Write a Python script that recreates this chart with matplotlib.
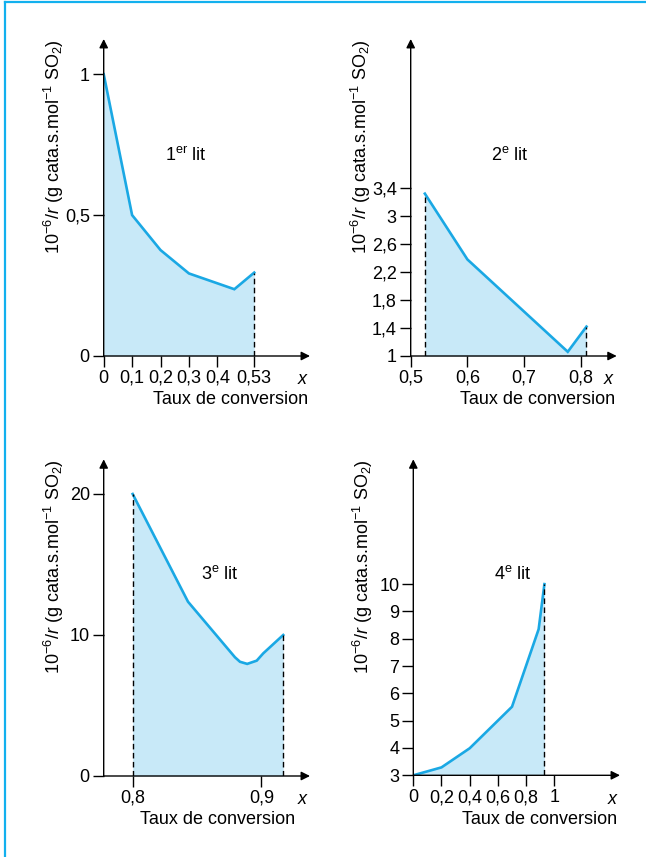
import matplotlib
matplotlib.use("Agg")
import matplotlib.pyplot as plt

plt.rcParams['font.family'] = ['Liberation Sans', 'DejaVu Sans']
plt.rcParams['mathtext.fontset'] = 'custom'
plt.rcParams['mathtext.rm'] = 'Liberation Sans'
plt.rcParams['mathtext.it'] = 'Liberation Sans:italic'
plt.rcParams['mathtext.bf'] = 'Liberation Sans:bold'

# 1er lit
x1 = [0, 0.1, 0.2, 0.3, 0.46, 0.53]
y1 = [1.0, 0.5, 0.376, 0.293, 0.237, 0.296]
xt1 = [0, 0.1, 0.2, 0.3, 0.4, 0.53]
xl1 = ['0', '0,1', '0,2', '0,3', '0,4', '0,53']
yt1 = [0, 0.5, 1]
yl1 = ['0', '0,5', '1']

# 2e lit
x2 = [0.525, 0.6, 0.777, 0.81]
y2 = [3.32, 2.38, 1.06, 1.42]
xt2 = [0.5, 0.6, 0.7, 0.8]
xl2 = ['0,5', '0,6', '0,7', '0,8']
yt2 = [1, 1.4, 1.8, 2.2, 2.6, 3, 3.4]
yl2 = ['1', '1,4', '1,8', '2,2', '2,6', '3', '3,4']

# 3e lit
x3 = [0.8, 0.843, 0.8795, 0.8834, 0.889, 0.8964, 0.9015, 0.917]
y3 = [20.0, 12.36, 8.42, 8.1, 7.95, 8.18, 8.7, 10.0]
xt3 = [0.8, 0.9]
xl3 = ['0,8', '0,9']
yt3 = [0, 10, 20]
yl3 = ['0', '10', '20']

# 4e lit
x4 = [0, 0.2, 0.4, 0.7, 0.889, 0.93]
y4 = [3.0, 3.29, 3.99, 5.51, 8.35, 10.0]
xt4 = [0, 0.2, 0.4, 0.6, 0.8, 1]
xl4 = ['0', '0,2', '0,4', '0,6', '0,8', '1']
yt4 = [3, 4, 5, 6, 7, 8, 9, 10]
yl4 = ['3', '4', '5', '6', '7', '8', '9', '10']

W, H = 646, 857
LINE = '#1aa8e4'
FILL = '#c8e9f8'
FRAME = '#12b0ee'

fig = plt.figure(figsize=(W / 100, H / 100), dpi=100)

# cadre bleu (gauche et haut)
fig.add_artist(plt.Line2D([4.5 / W, 4.5 / W], [0, 1 - 2 / H], color=FRAME, lw=1.6))
fig.add_artist(plt.Line2D([4.5 / W, 1], [1 - 2 / H, 1 - 2 / H], color=FRAME, lw=1.6))


def panel(left, bottom, right, top, xlim, ylim, xs, ys, xt, xl, yt, yl, dashed,
          name, name_pos, xlab_right):
    ax = fig.add_axes([left / W, 1 - bottom / H, (right - left) / W, (bottom - top) / H])
    ax.set_xlim(*xlim)
    ax.set_ylim(*ylim)
    for s in ax.spines.values():
        s.set_visible(False)
    ax.fill_between(xs, ys, ylim[0], color=FILL, lw=0)
    ax.plot(xs, ys, color=LINE, lw=1.9, solid_joinstyle='miter')
    for xd in dashed:
        yd = ys[xs.index(xd)]
        ax.plot([xd, xd], [ylim[0], yd], color='k', lw=1, ls=(0, (4, 2.5)))
    # axes avec flèches
    arrow = dict(arrowstyle='-|>', color='k', lw=1, mutation_scale=13, shrinkA=0, shrinkB=0)
    ax.annotate('', xy=(1, 0), xytext=(0, 0), xycoords='axes fraction', arrowprops=arrow)
    ax.annotate('', xy=(0, 1), xytext=(0, 0), xycoords='axes fraction', arrowprops=arrow)
    ax.set_xticks(xt)
    ax.set_xticklabels(xl)
    ax.set_yticks(yt)
    ax.set_yticklabels(yl)
    ax.tick_params(direction='out', length=8, width=1, labelsize=13, pad=2)
    ax.text(*name_pos, name, fontsize=13, ha='center', va='center')
    # titres d'axes
    fig.text((left - 50) / W, 1 - (bottom - 209) / H,
             r'$10^{-6}/\mathit{r}$ (g cata.s.mol$^{-1}$ SO$_2$)',
             rotation=90, ha='center', va='center', fontsize=13)
    fig.text((right - 8) / W, 1 - (bottom + 24) / H, 'x', style='italic',
             fontsize=13, ha='center', va='center')
    fig.text(xlab_right / W, 1 - (bottom + 44) / H, 'Taux de conversion',
             fontsize=13, ha='right', va='center')
    return ax


panel(103.7, 356, 310, 39, (0, 0.7264), (0, 1.125), x1, y1, xt1, xl1, yt1, yl1,
      [0.53], r'1$^{\mathrm{er}}$ lit', (0.29, 0.71), 308)
panel(410.7, 356, 616.7, 39, (0.5, 0.8633), (1, 5.53), x2, y2, xt2, xl2, yt2, yl2,
      [0.525, 0.81], r'2$^{\mathrm{e}}$ lit', (0.675, 3.87), 615)
panel(103.7, 776, 310, 459.3, (0.7775, 0.9378), (0, 22.46), x3, y3, xt3, xl3, yt3, yl3,
      [0.8, 0.917], r'3$^{\mathrm{e}}$ lit', (0.868, 14.3), 295)
panel(413.3, 775.3, 620, 459.3, (0, 1.466), (3, 14.57), x4, y4, xt4, xl4, yt4, yl4,
      [0.93], r'4$^{\mathrm{e}}$ lit', (0.704, 10.37), 617)

fig.savefig('out.png', dpi=100)
